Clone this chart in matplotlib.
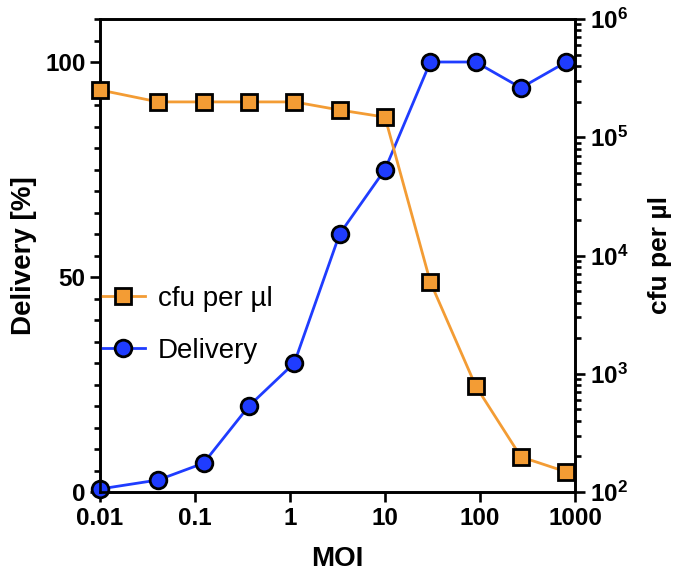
import matplotlib
matplotlib.use('Agg')
import matplotlib.pyplot as plt
from matplotlib.ticker import MultipleLocator, NullLocator, FixedLocator, LogLocator

plt.rcParams['font.family'] = ['Liberation Sans', 'DejaVu Sans']
plt.rcParams['mathtext.fontset'] = 'custom'
plt.rcParams['mathtext.rm'] = 'Liberation Sans'
plt.rcParams['mathtext.bf'] = 'Liberation Sans:bold'

# data
moi = [0.01, 0.041, 0.123, 0.37, 1.11, 3.33, 10, 30, 90, 270, 810]
delivery = [0.7, 2.8, 6.7, 20, 30, 60, 75, 100, 100, 94, 100]
cfu = [251000, 199000, 199000, 199000, 199000, 170000, 148000, 5970, 790, 198, 148]

xticks = [0.01, 0.1, 1, 10, 100, 1000]
xticklabels = ['0.01', '0.1', '1', '10', '100', '1000']
rticks = [1e2, 1e3, 1e4, 1e5, 1e6]
rticklabels = [r'$\mathbf{10^{2}}$', r'$\mathbf{10^{3}}$', r'$\mathbf{10^{4}}$',
               r'$\mathbf{10^{5}}$', r'$\mathbf{10^{6}}$']

orange = '#f39c34'
blue = '#1f3cff'
lw_sp = 1.9

fig = plt.figure(figsize=(6.85, 5.88), dpi=100)
ax = fig.add_axes([100/685, 96/588, 475/685, 473/588])
ax2 = ax.twinx()

# delivery on the left axis
l1, = ax.plot(moi, delivery, color=blue, lw=2, marker='o', ms=12,
              mfc=blue, mec='black', mew=2, label='Delivery', clip_on=False, zorder=3)
ax.set_xscale('log')
ax.set_xlim(0.01, 1000)
ax.set_ylim(0, 110)
ax.set_yticks([0, 50, 100])
ax.yaxis.set_minor_locator(MultipleLocator(5))
ax.set_xticks(xticks)
ax.set_xticklabels(xticklabels)
ax.xaxis.set_minor_locator(NullLocator())

# cfu on the right log axis
l2, = ax2.plot(moi, cfu, color=orange, lw=2, marker='s', ms=11.5,
               mfc=orange, mec='black', mew=2, label='cfu per µl', clip_on=False, zorder=3)
ax2.set_yscale('log')
ax2.set_ylim(1e2, 1e6)
ax2.yaxis.set_major_locator(FixedLocator(rticks))
ax2.set_yticklabels(rticklabels)
ax2.yaxis.set_minor_locator(LogLocator(base=10, subs=range(2, 10)))

for a in (ax, ax2):
    for s in a.spines.values():
        s.set_linewidth(lw_sp)
    a.tick_params(which='major', length=7, width=lw_sp, labelsize=17.5)
    a.tick_params(which='minor', length=4.5, width=lw_sp)
    for t in a.get_xticklabels() + a.get_yticklabels():
        t.set_fontweight('bold')

ax.set_xlabel('MOI', fontsize=20, fontweight='bold', labelpad=12)
ax.set_ylabel('Delivery [%]', fontsize=20, fontweight='bold', labelpad=6)
ax2.set_ylabel('cfu per µl', fontsize=19, fontweight='bold', labelpad=14)

ax.legend([l2, l1], ['cfu per µl', 'Delivery'], loc='upper left',
          bbox_to_anchor=(-0.022, 0.46), frameon=False, fontsize=20,
          handlelength=1.6, handletextpad=0.45, labelspacing=0.95, borderaxespad=0)

fig.savefig('out.png', dpi=100)
